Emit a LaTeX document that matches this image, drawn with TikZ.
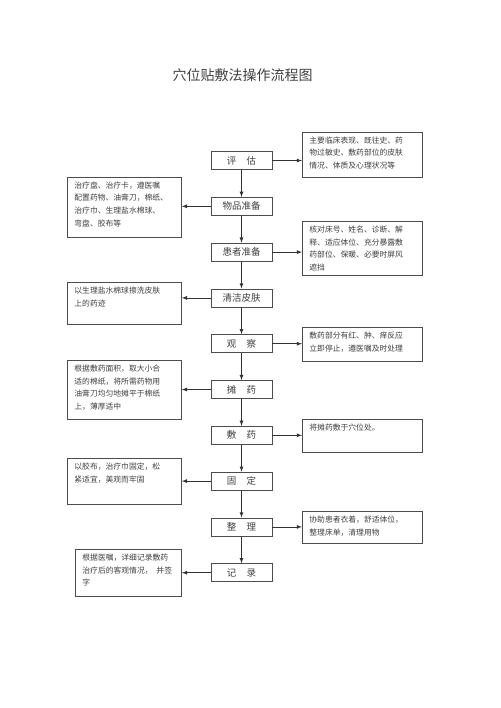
\documentclass[tikz,border=0pt]{standalone}
\usepackage{fontspec}
\newfontfamily\cjk{Noto Sans CJK SC}
\usetikzlibrary{arrows}
\newcommand{\notetext}[3]{\parbox[c][#1][t]{#2}{#3}}

\begin{document}
\begin{tikzpicture}[x=1pt,y=-1pt,line width=0.8pt,
  stepbox/.style={draw=black!70,minimum width=61pt,minimum height=18pt,inner sep=0pt,
    text=black!75,font=\cjk\fontsize{9.5}{11}\selectfont},
  notebox/.style={draw=black!70,anchor=north west,inner xsep=7pt,inner ysep=4.5pt,
    text=black!75,font=\cjk\fontsize{7.8}{12.6}\selectfont},
  link/.style={draw=black!80,-latex}]
\useasboundingbox (0,0) rectangle (500,708);
\node[text=black!75,font=\cjk\fontsize{14}{16}\selectfont] (T) at (242.5,75) {穴位贴敷法操作流程图};
% steps
\node[stepbox] (S1) at (241.5,160.5) {评\hspace{1.1em}估};
\node[stepbox] (S2) at (241.5,206.3) {物品准备};
\node[stepbox] (S3) at (241.5,252.1) {患者准备};
\node[stepbox] (S4) at (241.5,297.9) {清洁皮肤};
\node[stepbox] (S5) at (241.5,343.7) {观\hspace{1.1em}察};
\node[stepbox] (S6) at (241.5,389.5) {摊\hspace{1.1em}药};
\node[stepbox] (S7) at (241.5,435.3) {敷\hspace{1.1em}药};
\node[stepbox] (S8) at (241.5,481.1) {固\hspace{1.1em}定};
\node[stepbox] (S9) at (241.5,526.9) {整\hspace{1.1em}理};
\node[stepbox] (S10) at (241.5,572.7) {记\hspace{1.1em}录};
% notes right
\node[notebox] (R1) at (302,131.7) {\notetext{36pt}{106pt}{主要临床表现、既往史、药\\物过敏史、敷药部位的皮肤\\情况、体质及心理状况等}};
\node[notebox] (R2) at (302,221) {\notetext{45pt}{106pt}{核对床号、姓名、诊断、解\\释、适应体位、充分暴露敷\\药部位、保暖、必要时屏风\\遮挡}};
\node[notebox] (R3) at (302,327) {\notetext{25pt}{106pt}{敷药部分有红、肿、痒反应\\立即停止，遵医嘱及时处理}};
\node[notebox] (R4) at (302,419) {\notetext{24pt}{106pt}{将摊药敷于穴位处。}};
\node[notebox] (R5) at (302,511) {\notetext{23pt}{106pt}{协助患者衣着，舒适体位，\\整理床单，清理用物}};
% notes left
\node[notebox] (L1) at (67,176.7) {\notetext{51pt}{100pt}{治疗盘、治疗卡，遵医嘱\\配置药物、油膏刀，棉纸、\\治疗巾、生理盐水棉球、\\弯盘、胶布等}};
\node[notebox] (L2) at (67,282) {\notetext{33pt}{100pt}{以生理盐水棉球擦洗皮肤\\上的药迹}};
\node[notebox] (L3) at (67,360) {\notetext{50pt}{100pt}{根据敷药面积，取大小合\\适的棉纸，将所需药物用\\油膏刀均匀地摊平于棉纸\\上，薄厚适中}};
\node[notebox] (L4) at (67,458) {\notetext{37pt}{100pt}{以胶布，治疗巾固定，松\\紧适宜，美观而牢固}};
\node[notebox] (L5) at (75,549) {\notetext{38pt}{92pt}{根据医嘱，详细记录敷药\\\mbox{治疗后的客观情况，\hspace{0.5em}并签}\\字}};
% flow
\draw[link] (S1) -- (S2);
\draw[link] (S2) -- (S3);
\draw[link] (S3) -- (S4);
\draw[link] (S4) -- (S5);
\draw[link] (S5) -- (S6);
\draw[link] (S6) -- (S7);
\draw[link] (S7) -- (S8);
\draw[link] (S8) -- (S9);
\draw[link] (S9) -- (S10);
% side links
\draw[link] (S1.east) -- (S1.east -| R1.west);
\draw[link] (S3.east) -- (S3.east -| R2.west);
\draw[link] (S5.east) -- (S5.east -| R3.west);
\draw[link] (S7.east) -- (S7.east -| R4.west);
\draw[link] (S9.east) -- (S9.east -| R5.west);
\draw[link] (S2.west) -- (S2.west -| L1.east);
\draw[link] (S4.west) -- (S4.west -| L2.east);
\draw[link] (S6.west) -- (S6.west -| L3.east);
\draw[link] (S8.west) -- (S8.west -| L4.east);
\draw[link] (S10.west) -- (S10.west -| L5.east);
\end{tikzpicture}
\end{document}
